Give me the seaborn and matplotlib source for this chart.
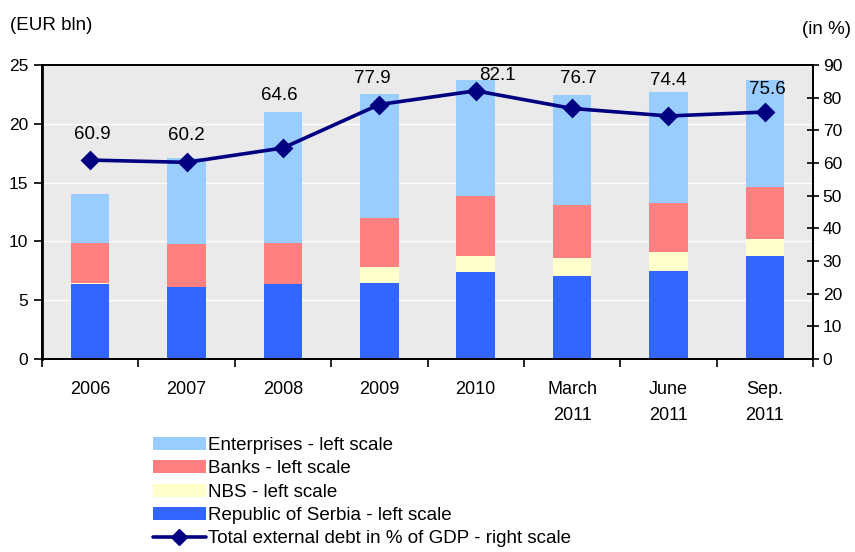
import matplotlib
matplotlib.use('Agg')

import pandas as pd
import seaborn as sns
from matplotlib import pyplot as plt
from matplotlib.lines import Line2D
from matplotlib.patches import Patch

# Datos (EUR mil millones y % del PIB).
periodos = ['2006', '2007', '2008', '2009', '2010',
            'March\n2011', 'June\n2011', 'Sep.\n2011']
serbia = [6.4, 6.1, 6.4, 6.5, 7.4, 7.1, 7.5, 8.8]
nbs = [0.1, 0.0, 0.0, 1.3, 1.4, 1.5, 1.6, 1.4]
bancos = [3.4, 3.7, 3.5, 4.2, 5.1, 4.5, 4.2, 4.4]
empresas = [4.1, 7.3, 11.1, 10.5, 9.8, 9.35, 9.4, 9.1]
deuda_pib = [60.9, 60.2, 64.6, 77.9, 82.1, 76.7, 74.4, 75.6]

etiquetas = ['Enterprises - left scale', 'Banks - left scale',
             'NBS - left scale', 'Republic of Serbia - left scale',
             'Total external debt in % of GDP - right scale']
colores = ['#99CCFF', '#FF8080', '#FFFFCC', '#3366FF']
color_linea = '#000080'

# Desplazamiento de las etiquetas de valor (pixeles).
desp = [(2, 26), (0, 27), (-4, 52), (-7, 26), (22, 15), (6, 30), (0, 35), (3, 23)]

sns.set_theme(style='white')
plt.rcParams['font.family'] = ['Liberation Sans', 'DejaVu Sans']
plt.rcParams['text.color'] = 'black'
plt.rcParams['axes.labelcolor'] = 'black'
plt.rcParams['xtick.color'] = 'black'
plt.rcParams['ytick.color'] = 'black'

df = pd.DataFrame({
    'periodo': periodos,
    'serbia': serbia,
    'nbs': nbs,
    'bancos': bancos,
    'empresas': empresas,
})
df['c1'] = df['serbia']
df['c2'] = df['c1'] + df['nbs']
df['c3'] = df['c2'] + df['bancos']
df['c4'] = df['c3'] + df['empresas']

fig = plt.figure(figsize=(8.55, 5.52), dpi=100)
ax = fig.add_axes([42 / 855, 1 - 359 / 552, 771 / 855, 294 / 552])
ax.set_facecolor('#EAEAEA')
ax.set_axisbelow(True)
ax.yaxis.grid(True, color='white', linewidth=1)
ax.xaxis.grid(False)

# Barras apiladas: se dibujan los acumulados de mayor a menor.
for col, color in zip(['c4', 'c3', 'c2', 'c1'], colores):
    sns.barplot(data=df, x='periodo', y=col, color=color, width=0.4,
                saturation=1, ax=ax, order=periodos,
                edgecolor='none', linewidth=0)

ax.set_ylim(0, 25)
ax.set_yticks(range(0, 26, 5))
ax.set_xlabel('')
ax.set_ylabel('')

ax2 = ax.twinx()
sns.pointplot(x=periodos, y=deuda_pib, ax=ax2, color=color_linea,
              markers='D', markersize=8, linewidth=2.6, order=periodos)
ax2.set_ylim(0, 90)
ax2.set_yticks(range(0, 91, 10))
ax2.grid(False)
ax2.set_ylabel('')

for i, v in enumerate(deuda_pib):
    ax2.annotate(f'{v:.1f}', (i, v), xytext=desp[i], textcoords='offset pixels',
                 ha='center', va='center', fontsize=13.5, color='black')

# Ejes y marcas.
ax.set_xlim(-0.5, len(periodos) - 0.5)
ax.set_xticks(range(len(periodos)))
ax.set_xticklabels(periodos, fontsize=13, linespacing=1.65)
ax.set_xticks([i - 0.5 for i in range(len(periodos) + 1)], minor=True)
ax.tick_params(axis='x', which='major', length=0, pad=16, colors='black')
ax.tick_params(axis='x', which='minor', length=6, width=1.2, direction='out',
               bottom=True, color='black')
ax.tick_params(axis='y', which='major', left=True, length=6, width=1.2,
               direction='out', labelsize=12.5, colors='black', pad=4)
ax2.tick_params(axis='y', which='major', right=True, length=8, width=1.2,
                direction='inout', labelsize=12.5, colors='black', pad=3)

for a in (ax, ax2):
    for s in a.spines.values():
        s.set_color('black')
        s.set_linewidth(1.3)
ax.spines['left'].set_linewidth(2)

fig.text(10 / 855, 1 - 25 / 552, '(EUR bln)', fontsize=13.5, va='center', ha='left')
fig.text(851 / 855, 1 - 30 / 552, '(in %)', fontsize=13.5, va='center', ha='right')

manejadores = [Patch(facecolor=c, edgecolor='none') for c in colores]
manejadores.append(Line2D([], [], color=color_linea, linewidth=2.6,
                          marker='D', markersize=8))
fig.legend(manejadores, etiquetas, loc='upper left',
           bbox_to_anchor=(153 / 855, 1 - 437 / 552), frameon=False,
           fontsize=13.5, handlelength=2.8, handletextpad=0.15,
           labelspacing=0.33, borderpad=0, borderaxespad=0)

fig.savefig('out.png', dpi=100)
